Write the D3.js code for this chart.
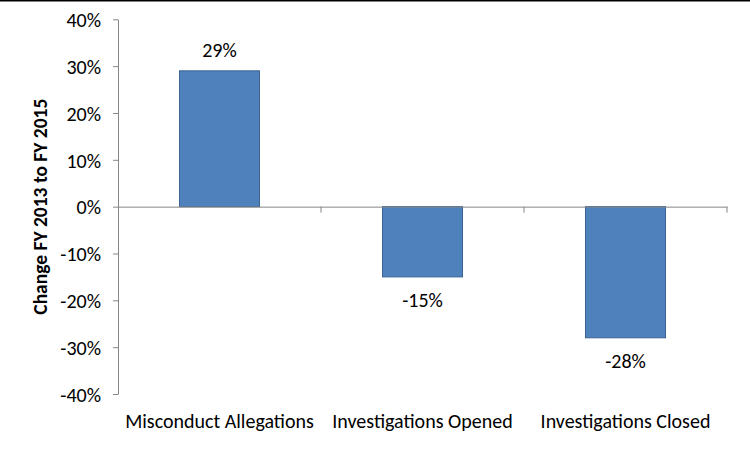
<!DOCTYPE html>
<html><head><meta charset="utf-8">
<script src="https://cdn.jsdelivr.net/npm/d3@7"></script>
<style>body{margin:0;background:#fff}svg{display:block}text{font-family:Carlito,Lato,"Liberation Sans",sans-serif;fill:#000}</style>
</head><body><svg id="c" width="750" height="451"></svg>
<script>
const categories = ["Misconduct Allegations","Investigations Opened","Investigations Closed"];
const values = [29,-15,-28];
const valueLabels = ["29%","-15%","-28%"];
const yTicks = [40,30,20,10,0,-10,-20,-30,-40];
const yTitle = "Change FY 2013 to FY 2015";

const svg = d3.select("#c");
svg.append("rect").attr("width",750).attr("height",451).attr("fill","#fff");
svg.append("line").attr("x1",0).attr("x2",750).attr("y1",0.75).attr("y2",0.75).attr("stroke","#000").attr("stroke-width",1.5);

const pLeft=118, pRight=727, pTop=19.3, pBottom=394;
const x = d3.scaleBand().domain(categories).range([pLeft,pRight]).paddingInner(0).paddingOuter(0);
const y = d3.scaleLinear().domain([-40,40]).range([pBottom,pTop]);
const axisColor="#868686";
const fs = 20;

// y axis
const ya = svg.append("g").attr("transform",`translate(${pLeft},0)`)
  .call(d3.axisLeft(y).tickValues(yTicks).tickSize(5).tickSizeOuter(0).tickFormat(d=>d+"%"));
ya.select(".domain").attr("stroke",axisColor);
ya.selectAll(".tick line").attr("stroke",axisColor);
ya.selectAll(".tick text").attr("x",-17).attr("dy","0.36em").attr("font-size",fs).attr("fill","#000").style("font-family","Carlito,Lato,sans-serif");

// bars
const bw = 80;
svg.selectAll("rect.bar").data(values).join("rect").attr("class","bar")
  .attr("x",(d,i)=>x(categories[i])+x.bandwidth()/2-bw/2)
  .attr("width",bw)
  .attr("y",d=>y(Math.max(0,d)))
  .attr("height",d=>Math.abs(y(d)-y(0)))
  .attr("fill","#4f81bd").attr("stroke","#3b6494").attr("stroke-width",1);

// x axis at 0
const xa = svg.append("g").attr("transform",`translate(0,${y(0)})`)
  .call(d3.axisBottom(x).tickSize(0).tickSizeOuter(0).tickFormat(""));
xa.select(".domain").attr("stroke",axisColor);
xa.selectAll(".tick").remove();
const bounds = categories.map((c,i)=>x(c)+x.bandwidth());
svg.selectAll("line.xt").data(bounds).join("line").attr("class","xt")
  .attr("x1",d=>d).attr("x2",d=>d).attr("y1",y(0)).attr("y2",y(0)+6).attr("stroke",axisColor);

// category labels
svg.selectAll("text.cat").data(categories).join("text").attr("class","cat")
  .attr("x",d=>x(d)+x.bandwidth()/2).attr("y",428).attr("text-anchor","middle")
  .attr("font-size",fs).text(d=>d);

// value labels
svg.selectAll("text.val").data(values).join("text").attr("class","val")
  .attr("x",(d,i)=>x(categories[i])+x.bandwidth()/2)
  .attr("y",d=>d>=0? y(d)-14 : y(d)+30)
  .attr("text-anchor","middle").attr("font-size",fs).text((d,i)=>valueLabels[i]);

// y title
svg.append("text").attr("transform",`translate(47,${y(0)}) rotate(-90)`)
  .attr("text-anchor","middle").attr("font-size",19.5).attr("font-weight","bold").text(yTitle);
</script></body></html>
